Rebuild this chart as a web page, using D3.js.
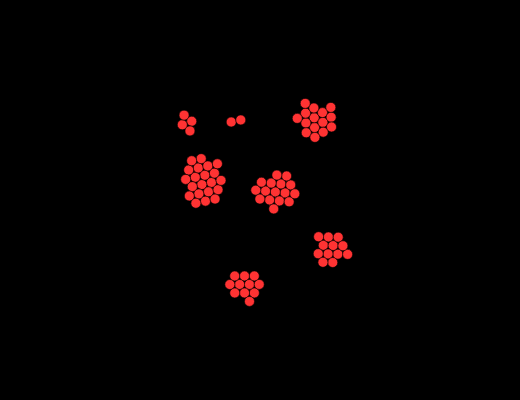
<!DOCTYPE html>
<html><head><meta charset="utf-8">
<script src="https://cdn.jsdelivr.net/npm/d3@7"></script>
<style>html,body{margin:0;padding:0;background:#000;}svg{display:block;}</style>
</head><body>
<script>
const clusters = ["A","B","C","D","E","F","G"];
const clusterX = [187, 236, 316, 203, 276, 331, 245];
const clusterY = [123, 121, 120, 181, 191, 249, 286];
const clusterSize = [4, 2, 15, 21, 16, 12, 11];

const W = 520, H = 400, R = 5;
const x = d3.scaleLinear().domain([0, 520]).range([0, W]);
const y = d3.scaleLinear().domain([0, 400]).range([0, H]);

const nodes = [];
clusters.forEach((c, i) => {
  for (let k = 0; k < clusterSize[i]; k++) nodes.push({cluster: i});
});
// start each node near its cluster centre using d3's deterministic phyllotaxis offsets
const sim = d3.forceSimulation(nodes).stop();
nodes.forEach(n => { n.x = x(clusterX[n.cluster]) + n.x * 0.35; n.y = y(clusterY[n.cluster]) + n.y * 0.35; });
sim.force("x", d3.forceX(d => x(clusterX[d.cluster])).strength(0.06))
  .force("y", d3.forceY(d => y(clusterY[d.cluster])).strength(0.06))
  .force("collide", d3.forceCollide(4.9).iterations(2))
  .alpha(1);
for (let i = 0; i < 300; i++) sim.tick();

const svg = d3.select("body").append("svg").attr("width", W).attr("height", H);
svg.append("rect").attr("width", W).attr("height", H).attr("fill", "#000");
svg.selectAll("circle").data(nodes).join("circle")
  .attr("cx", d => d.x).attr("cy", d => d.y).attr("r", R)
  .attr("fill", "#ff3333").attr("stroke", "#000").attr("stroke-width", 0.6);
</script>
</body></html>
